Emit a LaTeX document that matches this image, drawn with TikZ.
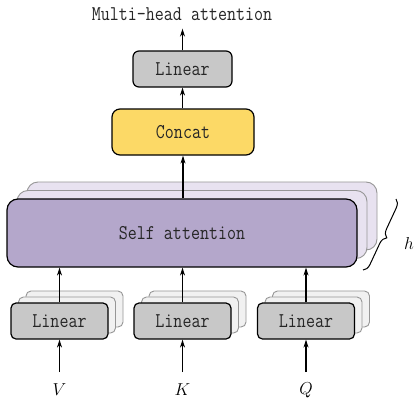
\documentclass[tikz,border=0pt]{standalone}
\usepackage{graphicx}
\usetikzlibrary{arrows.meta,decorations.pathreplacing}
\definecolor{sapurple}{RGB}{180,167,203}
\definecolor{saback}{RGB}{232,226,240}
\definecolor{cyellow}{RGB}{252,217,102}
\definecolor{lgray}{RGB}{200,200,200}
\definecolor{lback}{RGB}{241,241,241}
\definecolor{edgegray}{RGB}{150,150,150}
\newcommand{\vtxt}[1]{\scalebox{1}[1.2]{#1}}
\begin{document}
\begin{tikzpicture}[x=1pt,y=-1pt,
  txt/.style={font=\fontsize{17.5}{20}\selectfont\ttfamily, text=black!85},
  front/.style={draw=black, line width=1.2pt, inner sep=0pt, txt},
  back/.style={draw=edgegray, line width=0.9pt, inner sep=0pt},
  smallbox/.style={minimum width=97pt, minimum height=36pt, rounded corners=5pt},
  sabox/.style={minimum width=350pt, minimum height=68pt, rounded corners=11pt},
  arr/.style={line width=1.1pt, -{Stealth[length=8pt,width=5pt]}},
  lab/.style={font=\fontsize{17}{20}\selectfont\itshape, inner sep=0pt}
]
\useasboundingbox[fill=white] (0,0) rectangle (414,404);

% Self attention stack
\node[back, sabox, fill=saback] (sa3) at (202,216) {};
\node[back, sabox, fill=saback] (sa2) at (192,224.5) {};
\node[front, sabox, fill=sapurple] (sa) at (182,233) {\vtxt{Self attention}};

% Linear stacks
\foreach \n/\x in {v/59.5, k/182.5, q/306}{
  \node[back, smallbox, fill=lback] (l\n3) at (\x+15,309) {};
  \node[back, smallbox, fill=lback] (l\n2) at (\x+7.5,315) {};
  \node[front, smallbox, fill=lgray] (l\n) at (\x,321) {\vtxt{Linear}};
}

% Concat and top linear
\node[front, minimum width=142pt, minimum height=46pt, rounded corners=8pt, fill=cyellow] (cc) at (183,132) {\vtxt{Concat}};
\node[front, minimum width=99pt, minimum height=36pt, rounded corners=6pt, fill=lgray] (lt) at (182.5,69) {\vtxt{Linear}};
\node[txt, inner sep=0pt] (out) at (182,14) {\vtxt{Multi-head attention}};

% Input labels
\node[lab] (v) at (59.5,390) {$V$};
\node[lab] (k) at (182.5,390) {$K$};
\node[lab] (q) at (306,390) {$Q$};

% Arrows
\foreach \n in {v,k,q}{
  \draw[arr] ([yshift=18pt]\n.center) -- (l\n.south);
  \draw[arr] (l\n.north) -- (l\n.north |- sa.south);
}
\draw[arr] (sa.north -| cc.south) -- (cc.south);
\draw[arr] (cc.north -| lt.south) -- (lt.south);
\draw[arr] (lt.north) -- ([yshift=-8pt]out.south -| lt.north);

% Brace
\coordinate (bt) at (396,199);
\coordinate (bb) at (363,270);
\draw[line width=1pt, decorate, decoration={brace, amplitude=8pt}] (bt) -- (bb);
\node[lab] (h) at (409,243) {$h$};
\end{tikzpicture}
\end{document}
